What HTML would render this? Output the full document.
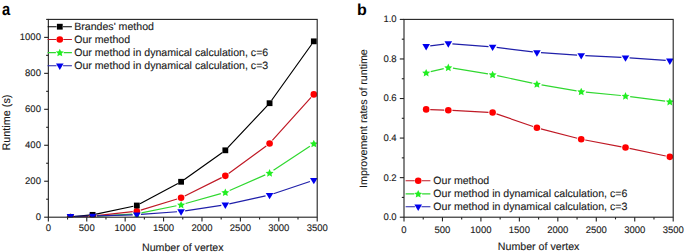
<!DOCTYPE html>
<html><head><meta charset="utf-8"><style>
html,body{margin:0;padding:0;background:#fff;width:685px;height:252px;overflow:hidden}
svg{display:block}
</style></head><body>
<svg width="685" height="252" viewBox="0 0 685 252"><defs><clipPath id="ca"><rect x="48.35" y="19.4" width="268.84999999999997" height="197.79999999999998"/></clipPath><clipPath id="cb"><rect x="404.0" y="19.4" width="269.20000000000005" height="197.79999999999998"/></clipPath></defs><style>text{font-family:"Liberation Sans",sans-serif;fill:#1a1a1a;stroke:#1a1a1a;stroke-width:0.12px;text-rendering:geometricPrecision}.tk{font-size:9.5px}.lg{font-size:10.6px}.tt{font-size:10.65px}.pl{font-size:16px;font-weight:bold;fill:#000;stroke:none}</style><rect width="685" height="252" fill="#fff"/><g clip-path="url(#ca)"><path d="M75.17,217.00L87.90,216.62M97.29,216.19L132.15,214.07M141.45,212.85L176.48,205.73M185.61,203.52L220.80,193.65M229.63,190.50L265.27,174.85M273.49,170.37L309.90,146.25" stroke="#30d830" stroke-width="1.2" fill="none"/><polygon points="70.47,213.25 71.65,215.83 74.47,216.15 72.37,218.06 72.94,220.84 70.47,219.45 68.00,220.84 68.57,218.06 66.48,216.15 69.30,215.83" fill="#22ee22"/><polygon points="92.60,212.58 93.77,215.16 96.59,215.48 94.50,217.40 95.06,220.18 92.60,218.78 90.13,220.18 90.69,217.40 88.60,215.48 91.42,215.16" fill="#22ee22"/><polygon points="136.84,209.88 138.02,212.47 140.83,212.79 138.74,214.70 139.31,217.48 136.84,216.08 134.37,217.48 134.94,214.70 132.85,212.79 135.66,212.47" fill="#22ee22"/><polygon points="181.09,200.89 182.26,203.47 185.08,203.79 182.99,205.71 183.55,208.49 181.09,207.09 178.62,208.49 179.18,205.71 177.09,203.79 179.91,203.47" fill="#22ee22"/><polygon points="225.33,188.49 226.51,191.07 229.32,191.39 227.23,193.30 227.80,196.08 225.33,194.69 222.86,196.08 223.43,193.30 221.34,191.39 224.15,191.07" fill="#22ee22"/><polygon points="269.58,169.06 270.75,171.65 273.57,171.97 271.48,173.88 272.04,176.66 269.58,175.26 267.11,176.66 267.67,173.88 265.58,171.97 268.40,171.65" fill="#22ee22"/><polygon points="313.82,139.75 315.00,142.34 317.81,142.66 315.72,144.57 316.29,147.35 313.82,145.95 311.35,147.35 311.92,144.57 309.83,142.66 312.64,142.34" fill="#22ee22"/></g><g clip-path="url(#ca)"><path d="M74.57,216.93L88.50,216.30M96.67,215.67L132.76,211.71M140.76,210.07L177.16,198.98M184.76,195.96L221.66,177.66M228.64,173.42L266.27,145.90M272.32,140.43L311.08,97.43" stroke="#c01a26" stroke-width="1.2" fill="none"/><circle cx="70.47" cy="217.11" r="3.3" fill="#ff0000"/><circle cx="92.60" cy="216.12" r="3.3" fill="#ff0000"/><circle cx="136.84" cy="211.27" r="3.3" fill="#ff0000"/><circle cx="181.09" cy="197.78" r="3.3" fill="#ff0000"/><circle cx="225.33" cy="175.84" r="3.3" fill="#ff0000"/><circle cx="269.58" cy="143.47" r="3.3" fill="#ff0000"/><circle cx="313.82" cy="94.38" r="3.3" fill="#ff0000"/></g><g clip-path="url(#ca)"><path d="M74.06,216.67L89.01,215.21M96.12,214.12L133.32,206.26M140.01,203.81L177.91,183.48M184.02,179.69L222.40,152.39M227.79,147.68L267.11,105.82M271.67,100.27L311.73,44.27" stroke="#000000" stroke-width="1.2" fill="none"/><rect x="67.57" y="214.12" width="5.8" height="5.8" fill="#000000"/><rect x="89.70" y="211.96" width="5.8" height="5.8" fill="#000000"/><rect x="133.94" y="202.61" width="5.8" height="5.8" fill="#000000"/><rect x="178.19" y="178.88" width="5.8" height="5.8" fill="#000000"/><rect x="222.43" y="147.41" width="5.8" height="5.8" fill="#000000"/><rect x="266.68" y="100.30" width="5.8" height="5.8" fill="#000000"/><rect x="310.92" y="38.44" width="5.8" height="5.8" fill="#000000"/></g><g clip-path="url(#ca)"><path d="M74.57,216.23L88.50,216.01M96.69,215.82L132.74,214.80M140.93,214.38L177.00,211.74M185.14,210.84L221.28,205.40M229.33,203.91L265.57,195.96M273.46,193.77L309.94,181.47" stroke="#2020aa" stroke-width="1.2" fill="none"/><polygon points="66.67,214.10 74.27,214.10 70.47,220.50" fill="#0000ee"/><polygon points="88.80,213.74 96.40,213.74 92.60,220.14" fill="#0000ee"/><polygon points="133.04,212.48 140.64,212.48 136.84,218.88" fill="#0000ee"/><polygon points="177.29,209.25 184.89,209.25 181.09,215.65" fill="#0000ee"/><polygon points="221.53,202.59 229.13,202.59 225.33,208.99" fill="#0000ee"/><polygon points="265.78,192.88 273.38,192.88 269.58,199.28" fill="#0000ee"/><polygon points="310.02,177.96 317.62,177.96 313.82,184.36" fill="#0000ee"/></g><rect x="48.35" y="19.40" width="268.85" height="197.80" fill="none" stroke="#222" stroke-width="1.1"/><path d="M48.35,217.2V221.39999999999998" stroke="#222" stroke-width="1.1"/><text x="48.35" y="231.20" class="tk" text-anchor="middle">0</text><path d="M67.55,217.2V219.39999999999998" stroke="#222" stroke-width="1.1"/><path d="M86.76,217.2V221.39999999999998" stroke="#222" stroke-width="1.1"/><text x="86.76" y="231.20" class="tk" text-anchor="middle">500</text><path d="M105.96,217.2V219.39999999999998" stroke="#222" stroke-width="1.1"/><path d="M125.16,217.2V221.39999999999998" stroke="#222" stroke-width="1.1"/><text x="125.16" y="231.20" class="tk" text-anchor="middle">1000</text><path d="M144.37,217.2V219.39999999999998" stroke="#222" stroke-width="1.1"/><path d="M163.57,217.2V221.39999999999998" stroke="#222" stroke-width="1.1"/><text x="163.57" y="231.20" class="tk" text-anchor="middle">1500</text><path d="M182.77,217.2V219.39999999999998" stroke="#222" stroke-width="1.1"/><path d="M201.98,217.2V221.39999999999998" stroke="#222" stroke-width="1.1"/><text x="201.98" y="231.20" class="tk" text-anchor="middle">2000</text><path d="M221.18,217.2V219.39999999999998" stroke="#222" stroke-width="1.1"/><path d="M240.39,217.2V221.39999999999998" stroke="#222" stroke-width="1.1"/><text x="240.39" y="231.20" class="tk" text-anchor="middle">2500</text><path d="M259.59,217.2V219.39999999999998" stroke="#222" stroke-width="1.1"/><path d="M278.79,217.2V221.39999999999998" stroke="#222" stroke-width="1.1"/><text x="278.79" y="231.20" class="tk" text-anchor="middle">3000</text><path d="M298.00,217.2V219.39999999999998" stroke="#222" stroke-width="1.1"/><path d="M317.20,217.2V221.39999999999998" stroke="#222" stroke-width="1.1"/><text x="317.20" y="231.20" class="tk" text-anchor="middle">3500</text><path d="M44.15,217.20H48.35" stroke="#222" stroke-width="1.1"/><text x="40.95" y="220.10" class="tk" text-anchor="end">0</text><path d="M44.15,181.24H48.35" stroke="#222" stroke-width="1.1"/><text x="40.95" y="184.14" class="tk" text-anchor="end">200</text><path d="M44.15,145.27H48.35" stroke="#222" stroke-width="1.1"/><text x="40.95" y="148.17" class="tk" text-anchor="end">400</text><path d="M44.15,109.31H48.35" stroke="#222" stroke-width="1.1"/><text x="40.95" y="112.21" class="tk" text-anchor="end">600</text><path d="M44.15,73.35H48.35" stroke="#222" stroke-width="1.1"/><text x="40.95" y="76.25" class="tk" text-anchor="end">800</text><path d="M44.15,37.38H48.35" stroke="#222" stroke-width="1.1"/><text x="40.95" y="40.28" class="tk" text-anchor="end">1000</text><path d="M46.15,199.22H48.35" stroke="#222" stroke-width="1.1"/><path d="M46.15,163.25H48.35" stroke="#222" stroke-width="1.1"/><path d="M46.15,127.29H48.35" stroke="#222" stroke-width="1.1"/><path d="M46.15,91.33H48.35" stroke="#222" stroke-width="1.1"/><path d="M46.15,55.36H48.35" stroke="#222" stroke-width="1.1"/><path d="M46.15,19.40H48.35" stroke="#222" stroke-width="1.1"/><path d="M47.6,26.7H56.599999999999994M63.0,26.7H71.9" stroke="#000000" stroke-width="1.1" fill="none"/><rect x="56.90" y="23.80" width="5.8" height="5.8" fill="#000000"/><text x="74.2" y="30.20" class="lg">Brandes' method</text><path d="M47.6,39.5H56.3M63.3,39.5H71.9" stroke="#c01a26" stroke-width="1.1" fill="none"/><circle cx="59.80" cy="39.50" r="3.3" fill="#ff0000"/><text x="74.2" y="43.00" class="lg">Our method</text><path d="M47.6,52.6H55.9M63.699999999999996,52.6H71.9" stroke="#30d830" stroke-width="1.1" fill="none"/><polygon points="59.80,48.70 60.98,51.28 63.79,51.60 61.70,53.52 62.27,56.30 59.80,54.90 57.33,56.30 57.90,53.52 55.81,51.60 58.62,51.28" fill="#22ee22"/><text x="74.2" y="56.10" class="lg">Our method in dynamical calculation, c=6</text><path d="M47.6,65.7H56.5M63.099999999999994,65.7H71.9" stroke="#2020aa" stroke-width="1.1" fill="none"/><polygon points="56.00,63.50 63.60,63.50 59.80,69.90" fill="#0000ee"/><text x="74.2" y="69.20" class="lg">Our method in dynamical calculation, c=3</text><g clip-path="url(#cb)"><path d="M430.25,109.55L444.21,110.04M452.40,110.41L488.51,112.34M496.48,113.90L533.03,126.46M540.88,128.82L577.24,138.24M585.24,140.02L621.48,146.82M629.53,148.42L665.80,156.03" stroke="#c01a26" stroke-width="1.2" fill="none"/><circle cx="426.15" cy="109.40" r="3.3" fill="#ff0000"/><circle cx="448.30" cy="110.19" r="3.3" fill="#ff0000"/><circle cx="492.61" cy="112.56" r="3.3" fill="#ff0000"/><circle cx="536.91" cy="127.79" r="3.3" fill="#ff0000"/><circle cx="581.21" cy="139.27" r="3.3" fill="#ff0000"/><circle cx="625.51" cy="147.57" r="3.3" fill="#ff0000"/><circle cx="669.82" cy="156.87" r="3.3" fill="#ff0000"/></g><g clip-path="url(#cb)"><path d="M430.72,71.70L443.73,68.57M452.94,68.21L487.96,73.84M497.20,75.57L532.31,83.10M541.54,84.87L576.58,90.81M585.89,92.06L620.84,95.49M630.17,96.55L665.15,101.08" stroke="#30d830" stroke-width="1.2" fill="none"/><polygon points="426.15,68.91 427.33,71.49 430.15,71.81 428.05,73.72 428.62,76.50 426.15,75.11 423.68,76.50 424.25,73.72 422.16,71.81 424.98,71.49" fill="#22ee22"/><polygon points="448.30,63.57 449.48,66.15 452.30,66.47 450.20,68.38 450.77,71.16 448.30,69.77 445.83,71.16 446.40,68.38 444.31,66.47 447.13,66.15" fill="#22ee22"/><polygon points="492.61,70.69 493.78,73.27 496.60,73.59 494.51,75.50 495.07,78.28 492.61,76.89 490.14,78.28 490.70,75.50 488.61,73.59 491.43,73.27" fill="#22ee22"/><polygon points="536.91,80.18 538.08,82.76 540.90,83.08 538.81,85.00 539.38,87.78 536.91,86.38 534.44,87.78 535.01,85.00 532.91,83.08 535.73,82.76" fill="#22ee22"/><polygon points="581.21,87.70 582.39,90.28 585.20,90.60 583.11,92.52 583.68,95.29 581.21,93.90 578.74,95.29 579.31,92.52 577.22,90.60 580.03,90.28" fill="#22ee22"/><polygon points="625.51,92.05 626.69,94.63 629.51,94.95 627.42,96.87 627.98,99.65 625.51,98.25 623.04,99.65 623.61,96.87 621.52,94.95 624.34,94.63" fill="#22ee22"/><polygon points="669.82,97.78 670.99,100.37 673.81,100.69 671.72,102.60 672.28,105.38 669.82,103.98 667.35,105.38 667.91,102.60 665.82,100.69 668.64,100.37" fill="#22ee22"/></g><g clip-path="url(#cb)"><path d="M430.22,45.79L444.23,44.04M452.39,43.84L488.52,46.58M496.67,47.40L532.84,51.92M541.00,52.71L577.12,55.13M585.31,55.60L621.42,57.37M629.60,57.87L665.73,60.45" stroke="#2020aa" stroke-width="1.2" fill="none"/><polygon points="422.35,44.10 429.95,44.10 426.15,50.50" fill="#0000ee"/><polygon points="444.50,41.33 452.10,41.33 448.30,47.73" fill="#0000ee"/><polygon points="488.81,44.69 496.41,44.69 492.61,51.09" fill="#0000ee"/><polygon points="533.11,50.23 540.71,50.23 536.91,56.63" fill="#0000ee"/><polygon points="577.41,53.20 585.01,53.20 581.21,59.60" fill="#0000ee"/><polygon points="621.71,55.38 629.31,55.38 625.51,61.78" fill="#0000ee"/><polygon points="666.02,58.54 673.62,58.54 669.82,64.94" fill="#0000ee"/></g><rect x="404.00" y="19.40" width="269.20" height="197.80" fill="none" stroke="#222" stroke-width="1.1"/><path d="M404.00,217.2V221.39999999999998" stroke="#222" stroke-width="1.1"/><text x="404.00" y="232.50" class="tk" text-anchor="middle">0</text><path d="M423.23,217.2V219.39999999999998" stroke="#222" stroke-width="1.1"/><path d="M442.46,217.2V221.39999999999998" stroke="#222" stroke-width="1.1"/><text x="442.46" y="232.50" class="tk" text-anchor="middle">500</text><path d="M461.69,217.2V219.39999999999998" stroke="#222" stroke-width="1.1"/><path d="M480.91,217.2V221.39999999999998" stroke="#222" stroke-width="1.1"/><text x="480.91" y="232.50" class="tk" text-anchor="middle">1000</text><path d="M500.14,217.2V219.39999999999998" stroke="#222" stroke-width="1.1"/><path d="M519.37,217.2V221.39999999999998" stroke="#222" stroke-width="1.1"/><text x="519.37" y="232.50" class="tk" text-anchor="middle">1500</text><path d="M538.60,217.2V219.39999999999998" stroke="#222" stroke-width="1.1"/><path d="M557.83,217.2V221.39999999999998" stroke="#222" stroke-width="1.1"/><text x="557.83" y="232.50" class="tk" text-anchor="middle">2000</text><path d="M577.06,217.2V219.39999999999998" stroke="#222" stroke-width="1.1"/><path d="M596.29,217.2V221.39999999999998" stroke="#222" stroke-width="1.1"/><text x="596.29" y="232.50" class="tk" text-anchor="middle">2500</text><path d="M615.51,217.2V219.39999999999998" stroke="#222" stroke-width="1.1"/><path d="M634.74,217.2V221.39999999999998" stroke="#222" stroke-width="1.1"/><text x="634.74" y="232.50" class="tk" text-anchor="middle">3000</text><path d="M653.97,217.2V219.39999999999998" stroke="#222" stroke-width="1.1"/><path d="M673.20,217.2V221.39999999999998" stroke="#222" stroke-width="1.1"/><text x="673.20" y="232.50" class="tk" text-anchor="middle">3500</text><path d="M399.8,217.20H404.0" stroke="#222" stroke-width="1.1"/><text x="396.60" y="220.10" class="tk" text-anchor="end">0.0</text><path d="M399.8,177.64H404.0" stroke="#222" stroke-width="1.1"/><text x="396.60" y="180.54" class="tk" text-anchor="end">0.2</text><path d="M399.8,138.08H404.0" stroke="#222" stroke-width="1.1"/><text x="396.60" y="140.98" class="tk" text-anchor="end">0.4</text><path d="M399.8,98.52H404.0" stroke="#222" stroke-width="1.1"/><text x="396.60" y="101.42" class="tk" text-anchor="end">0.6</text><path d="M399.8,58.96H404.0" stroke="#222" stroke-width="1.1"/><text x="396.60" y="61.86" class="tk" text-anchor="end">0.8</text><path d="M399.8,19.40H404.0" stroke="#222" stroke-width="1.1"/><text x="396.60" y="22.30" class="tk" text-anchor="end">1.0</text><path d="M401.8,197.42H404.0" stroke="#222" stroke-width="1.1"/><path d="M401.8,157.86H404.0" stroke="#222" stroke-width="1.1"/><path d="M401.8,118.30H404.0" stroke="#222" stroke-width="1.1"/><path d="M401.8,78.74H404.0" stroke="#222" stroke-width="1.1"/><path d="M401.8,39.18H404.0" stroke="#222" stroke-width="1.1"/><path d="M405.6,180.8H414.7M421.7,180.8H430.4" stroke="#c01a26" stroke-width="1.1" fill="none"/><circle cx="418.20" cy="180.80" r="3.3" fill="#ff0000"/><text x="433.3" y="184.30" class="lg">Our method</text><path d="M405.6,193.9H414.3M422.09999999999997,193.9H430.4" stroke="#30d830" stroke-width="1.1" fill="none"/><polygon points="418.20,190.00 419.38,192.58 422.19,192.90 420.10,194.82 420.67,197.60 418.20,196.20 415.73,197.60 416.30,194.82 414.21,192.90 417.02,192.58" fill="#22ee22"/><text x="433.3" y="197.40" class="lg">Our method in dynamical calculation, c=6</text><path d="M405.6,206.8H414.9M421.5,206.8H430.4" stroke="#2020aa" stroke-width="1.1" fill="none"/><polygon points="414.40,204.60 422.00,204.60 418.20,211.00" fill="#0000ee"/><text x="433.3" y="210.30" class="lg">Our method in dynamical calculation, c=3</text><text x="182.8" y="250.9" class="tt" text-anchor="middle">Number of vertex</text><text x="538.6" y="249.6" class="tt" text-anchor="middle">Number of vertex</text><text transform="translate(9.7,122.6) rotate(-90)" class="tt" style="font-size:10.85px" text-anchor="middle">Runtime (s)</text><text transform="translate(366.6,118.6) rotate(-90)" class="tt" style="font-size:10.62px" text-anchor="middle">Improvement rates of runtime</text><text transform="translate(2.0,14.7) scale(0.85,1)" class="pl" style="font-size:17.3px">a</text><text x="357.0" y="14.8" class="pl">b</text></svg>
</body></html>
